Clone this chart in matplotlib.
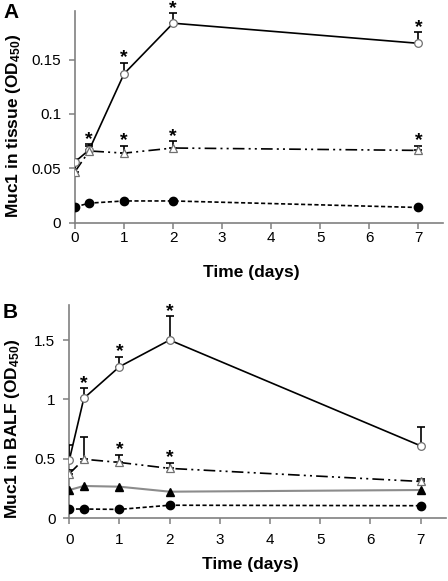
import matplotlib.pyplot as plt
import numpy as np

plt.rcParams['font.family'] = ['Liberation Sans', 'DejaVu Sans']
plt.rcParams['mathtext.fontset'] = 'custom'
plt.rcParams['mathtext.rm'] = 'Liberation Sans:bold'
plt.rcParams['mathtext.default'] = 'rm'

days = [0, 0.29, 1, 2, 7]

# panel A - tissue
a_open_circ = [0.056, 0.067, 0.137, 0.1835, 0.165]
a_open_circ_err = [0.003, 0.004, 0.010, 0.009, 0.010]
a_open_circ_sig = [0, 0, 1, 1, 1]
a_open_tri = [0.047, 0.066, 0.064, 0.0687, 0.0665]
a_open_tri_err = [0.006, 0.006, 0.0068, 0.006, 0.0045]
a_open_tri_sig = [0, 1, 1, 1, 1]
a_fill_circ = [0.0145, 0.018, 0.020, 0.020, 0.014]

# panel B - BALF
b_open_circ = [0.49, 1.01, 1.276, 1.50, 0.61]
b_open_circ_err = [0.127, 0.085, 0.085, 0.20, 0.16]
b_open_circ_sig = [0, 1, 1, 1, 0]
b_open_tri = [0.375, 0.497, 0.47, 0.42, 0.31]
b_open_tri_err = [0.03, 0.19, 0.063, 0.048, 0.02]
b_open_tri_sig = [0, 0, 1, 1, 0]
b_fill_tri = [0.238, 0.272, 0.266, 0.224, 0.238]
b_fill_circ = [0.078, 0.078, 0.075, 0.11, 0.106]

W, H = 448, 581
fig = plt.figure(figsize=(W / 100, H / 100), dpi=100)
axA = fig.add_axes([75 / W, 1 - 222.7 / H, (443 - 75) / W, (222.7 - 10.7) / H])
axB = fig.add_axes([69.3 / W, 1 - 518.3 / H, (445.7 - 69.3) / W, (518.3 - 305) / H])

gray = '#707070'
dashdotdot = (0, (7, 2.5, 1.2, 2.5, 1.2, 2.5))
ms = 5.5


def open_series(ax, y, err, sig, marker, ls):
    ax.plot(days, y, color='black', lw=1.2, ls=ls, zorder=2)
    ax.errorbar(days, y, yerr=[np.zeros(len(y)), err], fmt='none',
                ecolor='black', elinewidth=1.2, capsize=3, capthick=1.2, zorder=3)
    ax.plot(days, y, ls='none', marker=marker, ms=ms, mfc='white',
            mec=gray, mew=0.9, zorder=4)
    for x, v, e, s in zip(days, y, err, sig):
        if s:
            ax.annotate('*', (x, v + e), xytext=(0, -2.5), textcoords='offset points',
                        ha='center', va='bottom', fontsize=14, fontweight='bold',
                        annotation_clip=False)


open_series(axA, a_open_circ, a_open_circ_err, a_open_circ_sig, 'o', '-')
open_series(axA, a_open_tri, a_open_tri_err, a_open_tri_sig, '^', dashdotdot)
axA.plot(days, a_fill_circ, color='black', lw=1.2, ls=(0, (2.5, 1.5)),
         marker='o', ms=ms + 0.5, zorder=4)

open_series(axB, b_open_circ, b_open_circ_err, b_open_circ_sig, 'o', '-')
open_series(axB, b_open_tri, b_open_tri_err, b_open_tri_sig, '^', dashdotdot)
axB.plot(days, b_fill_tri, color='#8c8c8c', lw=1.5, ls='-', zorder=2)
axB.plot(days, b_fill_tri, ls='none', marker='^', ms=ms + 0.5, color='black', zorder=4)
axB.plot(days, b_fill_circ, color='black', lw=1.2, ls=(0, (2.5, 1.5)),
         marker='o', ms=ms + 0.5, zorder=4)

for ax, ymax, yt, ytl, xpad, lab_y in [
        (axA, 0.195, [0, 0.05, 0.1, 0.15], ['0', '0.05', '0.1', '0.15'], 2, -0.2),
        (axB, 1.795, [0, 0.5, 1, 1.5], ['0', '0.5', '1', '1.5'], 6.5, -0.18)]:
    ax.set_xlim(0, 7.5)
    ax.set_ylim(0, ymax)
    ax.set_xticks(range(8))
    ax.set_yticks(yt)
    ax.set_yticklabels(ytl)
    for s in ['top', 'right']:
        ax.spines[s].set_visible(False)
    for s in ['left', 'bottom']:
        ax.spines[s].set_color('#808080')
        ax.spines[s].set_linewidth(1.2)
    ax.tick_params(direction='out', length=4, width=1.1, color='#808080',
                   labelsize=11, pad=6)
    ax.tick_params(axis='x', pad=xpad)
    ax.set_xlabel('Time (days)', fontsize=12.5, fontweight='bold')
    ax.xaxis.set_label_coords(0.48, lab_y)

axA.set_ylabel('Muc1 in tissue (OD$_{450}$)', fontsize=12.5, fontweight='bold')
axA.yaxis.set_label_coords(-0.141, 0.456)
axB.set_ylabel('Muc1 in BALF (OD$_{450}$)', fontsize=12.5, fontweight='bold')
axB.yaxis.set_label_coords(-0.126, 0.42)

fig.text(3 / W, 1 - 12 / H, 'A', fontsize=15, fontweight='bold', va='center')
fig.text(3 / W, 1 - 312 / H, 'B', fontsize=15, fontweight='bold', va='center')

fig.savefig('out.png', dpi=100)
